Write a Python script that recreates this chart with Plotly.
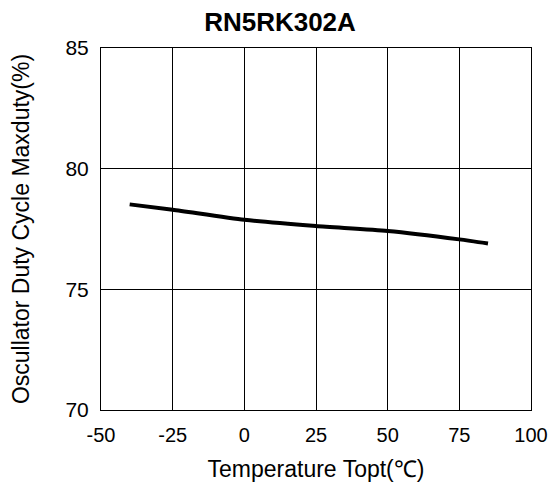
import plotly.graph_objects as go

temps = [-40, -25, 0, 25, 50, 75, 85]
duty = [78.52, 78.3, 77.88, 77.62, 77.42, 77.07, 76.9]
x_ticks = [-50, -25, 0, 25, 50, 75, 100]
x_labels = ["-50", "-25", "0", "25", "50", "75", "100"]
y_ticks = [70, 75, 80, 85]

fig = go.Figure()
fig.add_trace(go.Scatter(x=temps, y=duty, mode="lines",
                         line=dict(color="black", width=4, shape="spline", smoothing=0.6),
                         showlegend=False))

font = "Liberation Sans, Arial, sans-serif"
fig.update_layout(
    width=560, height=490,
    margin=dict(l=101, r=22, t=48, b=80),
    paper_bgcolor="white", plot_bgcolor="white",
    font=dict(family=font, size=20, color="black"),
    title=dict(text="<b>RN5RK302A</b>", x=0.5, xanchor="center", y=0.955, yanchor="middle",
               font=dict(size=26, family=font, color="black")),
    xaxis=dict(range=[-50, 100], tickvals=x_ticks, ticktext=x_labels, showgrid=True,
               gridcolor="black", gridwidth=1,
               showline=True, linecolor="black", linewidth=1, mirror=True, ticks="", zeroline=False,
               tickfont=dict(size=20), ticklabelstandoff=7,
               title=dict(text="Temperature Topt(℃)", standoff=15, font=dict(size=23))),
    yaxis=dict(range=[70, 85], tickvals=y_ticks, showgrid=True, gridcolor="black", gridwidth=1,
               showline=True, linecolor="black", linewidth=1, mirror=True, ticks="", zeroline=False,
               tickfont=dict(size=21), ticklabelstandoff=7,
               title=dict(text="Oscullator Duty Cycle Maxduty(%)", standoff=29, font=dict(size=23))),
)
fig.write_html("out.html", config={"displayModeBar": False},
               post_script="document.body.style.margin='0';")
